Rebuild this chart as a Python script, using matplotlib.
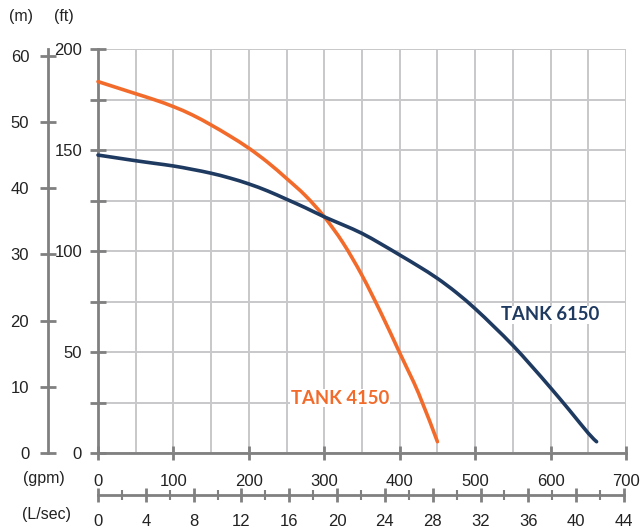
import matplotlib
matplotlib.use("Agg")
import matplotlib.pyplot as plt
from matplotlib.path import Path
from matplotlib.patches import PathPatch
import numpy as np

# ---- data ----
gpm_4150 = [0, 25, 50, 75, 100, 125, 150, 175, 200, 225, 250, 275, 300, 325, 350, 375, 400, 425, 450]
ft_4150 = [184, 181, 178, 175, 171.6, 167.5, 162.5, 157, 151, 144, 136, 127.5, 117, 104, 88, 69.5, 49.6, 29.6, 5.6]

gpm_6150 = [0, 25, 50, 75, 100, 125, 150, 175, 200, 225, 250, 275, 300, 325, 350, 375, 400,
            425, 450, 475, 500, 525, 550, 575, 600, 625, 650, 661]
ft_6150 = [147.6, 146.2, 144.8, 143.5, 142.2, 140.5, 138.6, 136.2, 133.3, 129.8, 125.7, 121.5, 117,
           113, 108.8, 103.6, 98.1, 92.5, 86.5, 79.5, 71.5, 62.6, 53.3, 43, 32.3, 21.2, 9.8, 5.6]

gpm_ticks = [0, 100, 200, 300, 400, 500, 600, 700]
ft_ticks = [0, 50, 100, 150, 200]
m_ticks = [0, 10, 20, 30, 40, 50, 60]
lsec_ticks = [0, 4, 8, 12, 16, 20, 24, 28, 32, 36, 40, 44]

ORANGE = "#F26B2B"
NAVY = "#1F3A60"
GRID = "#C8C8CA"
SPINE = "#808080"
TXT = "#222222"
FONT = "Liberation Sans"
FS = 12

W, H = 642, 532
fig = plt.figure(figsize=(W / 100, H / 100), dpi=100)

def rect(x0, y0, x1, y1):
    return [x0 / W, 1 - y1 / H, (x1 - x0) / W, (y1 - y0) / H]

X0, X1 = 98, 626
Y0, Y1 = 49.3, 453

ax = fig.add_axes(rect(X0, Y0, X1, Y1))
ax.set_xlim(0, 700)
ax.set_ylim(0, 200)
ax.set_xticks(np.arange(0, 701, 50), minor=True)
ax.set_yticks(np.arange(0, 201, 25), minor=True)
ax.grid(True, which="both", color=GRID, lw=1.4, zorder=0)
ax.set_axisbelow(True)
for s in ["top", "right"]:
    ax.spines[s].set_visible(False)
for s in ["left", "bottom"]:
    ax.spines[s].set_color(SPINE)
    ax.spines[s].set_linewidth(2.0)
    ax.spines[s].set_zorder(1)

ax.set_xticks(gpm_ticks)
ax.set_xticklabels([str(v) for v in gpm_ticks])
ax.set_yticks(ft_ticks)
ax.set_yticklabels([str(v) for v in ft_ticks])
ax.tick_params(axis="x", which="major", direction="inout", length=10, width=2, color=SPINE,
               pad=10, labelsize=FS, labelcolor=TXT)
ax.tick_params(axis="x", which="minor", length=0)
ax.tick_params(axis="y", which="both", direction="inout", length=11, width=2, color=SPINE,
               pad=6, labelsize=FS, labelcolor=TXT)
for lab in ax.get_xticklabels() + ax.get_yticklabels():
    lab.set_fontfamily(FONT)


def smooth_path(xs, ys):
    # Catmull-Rom spline through the read points, drawn as cubic Bezier segments
    pts = np.column_stack([xs, ys]).astype(float)
    verts = [pts[0]]
    codes = [Path.MOVETO]
    n = len(pts)
    for i in range(n - 1):
        p0 = pts[i - 1] if i > 0 else pts[i]
        p1 = pts[i]
        p2 = pts[i + 1]
        p3 = pts[i + 2] if i + 2 < n else pts[i + 1]
        c1 = p1 + (p2 - p0) / 6.0
        c2 = p2 - (p3 - p1) / 6.0
        verts += [c1, c2, p2]
        codes += [Path.CURVE4] * 3
    return Path(verts, codes)


for xs, ys, col in [(gpm_4150, ft_4150, ORANGE), (gpm_6150, ft_6150, NAVY)]:
    patch = PathPatch(smooth_path(xs, ys), facecolor="none", edgecolor=col, lw=2.6,
                      capstyle="round", zorder=3, clip_on=False)
    ax.add_patch(patch)

ax.text(599, 68.4, "TANK 6150", color=NAVY, fontsize=13.3, fontweight="bold", family="Lato",
        ha="center", va="center", zorder=4,
        bbox=dict(facecolor="white", edgecolor="none", pad=0.5))
ax.text(321, 27.2, "TANK 4150", color=ORANGE, fontsize=13.3, fontweight="bold", family="Lato",
        ha="center", va="center", zorder=4,
        bbox=dict(facecolor="white", edgecolor="none", pad=0.5))

# ---- meter axis ----
axm = fig.add_axes(rect(48, Y0, 49, Y1))
axm.set_ylim(0, 200 * 0.3048)
axm.set_xticks([])
axm.patch.set_visible(False)
for s in ["top", "right", "bottom"]:
    axm.spines[s].set_visible(False)
axm.spines["left"].set_color(SPINE)
axm.spines["left"].set_linewidth(2.0)
axm.spines["left"].set_bounds(0, 61)
axm.set_yticks(m_ticks)
axm.set_yticklabels([str(v) for v in m_ticks])
axm.tick_params(axis="y", direction="inout", length=11, width=2, color=SPINE, pad=8,
                labelsize=FS, labelcolor=TXT)
for lab in axm.get_yticklabels():
    lab.set_fontfamily(FONT)

# ---- L/sec axis ----
LS_PER = 15.85
axl = fig.add_axes(rect(X0, 480, X1, 495))
axl.set_xlim(0, 700 / LS_PER)
axl.set_yticks([])
axl.patch.set_visible(False)
for s in ["top", "right", "left"]:
    axl.spines[s].set_visible(False)
axl.spines["bottom"].set_color(SPINE)
axl.spines["bottom"].set_linewidth(2.0)
axl.spines["bottom"].set_bounds(0, 44)
axl.set_xticks(lsec_ticks)
axl.set_xticklabels([str(v) for v in lsec_ticks])
axl.set_xticks(np.arange(2, 44, 4), minor=True)
axl.tick_params(axis="x", which="major", direction="inout", length=10, width=2, color=SPINE,
                pad=9, labelsize=FS, labelcolor=TXT)
axl.tick_params(axis="x", which="minor", direction="inout", length=7, width=1.5, color=SPINE)
for lab in axl.get_xticklabels():
    lab.set_fontfamily(FONT)

# ---- unit labels ----
def ftext(x, y, s, size=11.5):
    fig.text(x / W, 1 - y / H, s, ha="center", va="center", fontsize=size, family=FONT, color=TXT)

ftext(21, 16, "(m)")
ftext(64, 16, "(ft)")
ftext(44, 478, "(gpm)")
ftext(47, 515, "(L/sec)")

fig.savefig("out.png", dpi=100)
